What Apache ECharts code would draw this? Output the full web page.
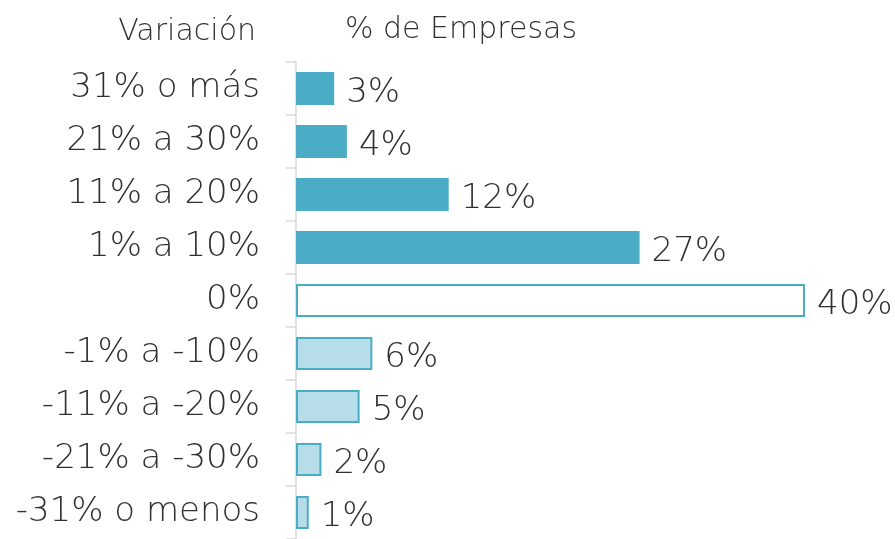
<!DOCTYPE html>
<html>
<head>
<meta charset="utf-8">
<script src="https://cdn.jsdelivr.net/npm/echarts@6/dist/echarts.min.js"></script>
<style>
  html, body { margin: 0; padding: 0; background: #fff; }
  #chart { width: 895px; height: 539px; }
</style>
</head>
<body>
<div id="chart"></div>
<script>
// Variation ranges, top to bottom
const categories = ['31% o más', '21% a 30%', '11% a 20%', '1% a 10%', '0%', '-1% a -10%', '-11% a -20%', '-21% a -30%', '-31% o menos'];
// Share of companies (%) in each range
const values = [3, 4, 12, 27, 40, 6, 5, 2, 1];
// Group of each range: up, unchanged, down
const groups = ['up', 'up', 'up', 'up', 'flat', 'down', 'down', 'down', 'down'];

const FONT = '"DejaVu Sans", sans-serif';
const WEIGHT = 200;
const TEXT = '#303030';
const TEAL = '#4BACC6';
const styles = {
  up:   { color: TEAL, borderColor: TEAL, borderWidth: 0 },
  flat: { color: '#ffffff', borderColor: TEAL, borderWidth: 2 },
  down: { color: '#B7DDE8', borderColor: TEAL, borderWidth: 2 }
};

const chart = echarts.init(document.getElementById('chart'));
chart.setOption({
  animation: false,
  grid: { left: 296, right: 90, top: 62, height: 483, containLabel: false },
  title: [
    { text: 'Variación', right: 634, top: 12, textStyle: { fontFamily: FONT, fontSize: 30, fontWeight: WEIGHT, color: TEXT } },
    { text: '% de Empresas', left: 340, top: 10, textStyle: { fontFamily: FONT, fontSize: 30, fontWeight: WEIGHT, color: TEXT } }
  ],
  xAxis: {
    type: 'value', min: 0, max: 40, show: false
  },
  yAxis: {
    type: 'category',
    inverse: true,
    data: categories,
    axisLine: { show: true, lineStyle: { color: '#D9D9D9', width: 1.5 } },
    axisTick: { show: true, length: 10, lineStyle: { color: '#D9D9D9', width: 1.5 } },
    axisLabel: { fontFamily: FONT, fontSize: 34, fontWeight: WEIGHT, color: TEXT, margin: 36, padding: [5, 0, 0, 0] },
    splitLine: { show: false }
  },
  series: [{
    type: 'bar',
    barWidth: 33,
    data: values.map((v, i) => ({ value: v, itemStyle: styles[groups[i]] })),
    label: {
      show: true,
      position: 'right',
      distance: 14,
      formatter: p => p.value + '%',
      fontFamily: FONT,
      fontSize: 34,
      fontWeight: WEIGHT,
      color: TEXT,
      offset: [-2, 5]
    }
  }]
});
</script>
</body>
</html>
